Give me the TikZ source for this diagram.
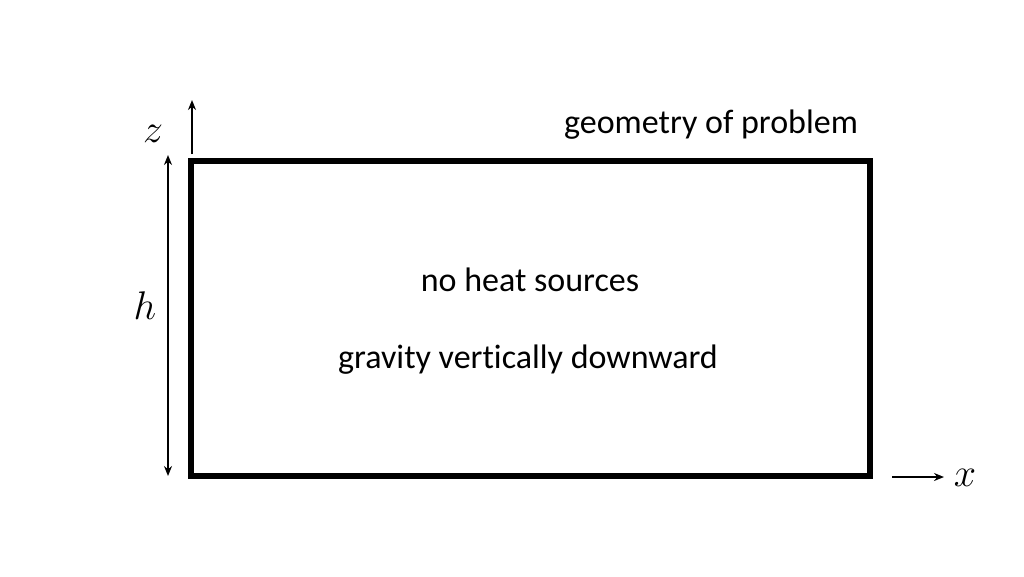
\documentclass[tikz,border=0pt]{standalone}
\usepackage{fix-cm}
\usepackage{fontspec}
\setmainfont{Carlito}[Ligatures=NoCommon]
\usetikzlibrary{arrows.meta}
\begin{document}
\begin{tikzpicture}[x=1pt,y=-1pt,
  txt/.style={font=\fontsize{34}{40}\selectfont, inner sep=0pt},
  mth/.style={font=\fontsize{40}{44}\selectfont, inner sep=0pt},
  arr/.style={line width=1.8pt, -{Stealth[length=10pt,width=8pt]}},
  darr/.style={line width=1.8pt, {Stealth[length=10pt,width=8pt]}-{Stealth[length=10pt,width=8pt]}},
  boxline/.style={line width=5.5pt}]
\useasboundingbox (0,0) rectangle (1024,576);
\node[draw, boxline, minimum width=679pt, minimum height=315pt, inner sep=0pt] (box) at (530.5,318.5) {};
\coordinate (zs) at (192,154);
\coordinate (ze) at (192,100);
\draw[arr] (zs) -- (ze);
\node[mth] (z) at (153,134) {$z$};
\coordinate (ht) at (168,155);
\coordinate (hb) at (168,476);
\draw[darr] (ht) -- (hb);
\node[mth] (h) at (145,306) {$h$};
\coordinate (xs) at (892,477);
\coordinate (xe) at (944,477);
\draw[arr] (xs) -- (xe);
\node[mth] (x) at (965,478) {$x$};
\node[txt] (title) at (711,125) {geometry of problem};
\node[txt] (t1) at (530,280) {no heat sources};
\node[txt] (t2) at (528,360) {gravity vertically downward};
\end{tikzpicture}
\end{document}
